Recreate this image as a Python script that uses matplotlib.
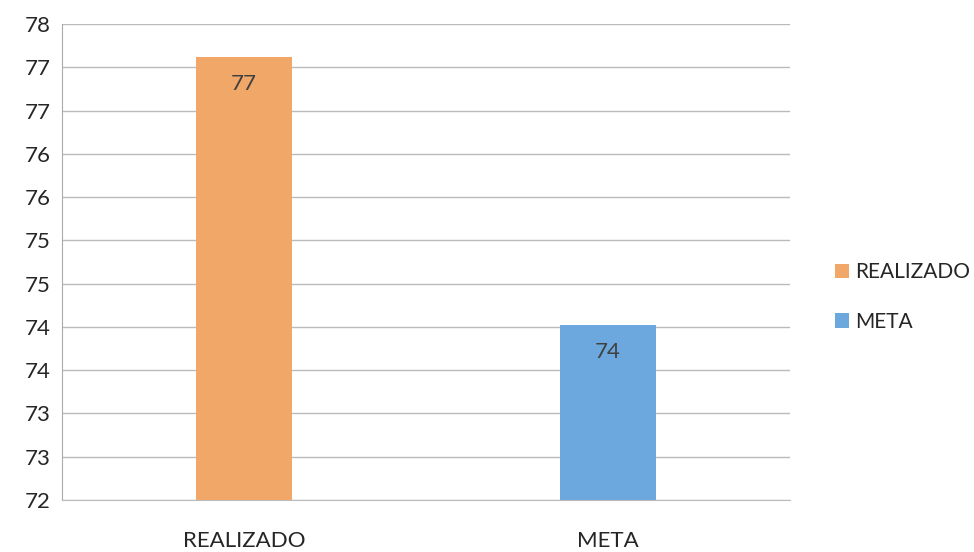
import matplotlib
matplotlib.use("Agg")
import matplotlib.pyplot as plt
from matplotlib.patches import Patch

categories = ["REALIZADO", "META"]
values = [77.12, 74.02]
value_labels = ["77", "74"]
colors = ["#F1A768", "#6CA8DE"]
y_ticks = [72, 72.5, 73, 73.5, 74, 74.5, 75, 75.5, 76, 76.5, 77, 77.5]
y_tick_labels = ["72", "73", "73", "74", "74", "75", "75", "76", "76", "77", "77", "78"]

plt.rcParams['font.family'] = ['Lato', 'DejaVu Sans']
txt = "#262626"

fig = plt.figure(figsize=(9.74, 5.52), dpi=100)
ax = fig.add_axes([62/974, 1-500/552, (790-62)/974, (500-24)/552])

x = list(range(len(categories)))
bars = ax.bar(x, values, width=0.264, color=colors, zorder=3)

ax.set_xlim(-0.5, 1.5)
ax.set_ylim(72, 77.5)
ax.set_yticks(y_ticks)
ax.set_yticklabels(y_tick_labels, fontsize=16, color=txt)
ax.tick_params(axis='y', length=0, pad=8)
ax.set_xticks(x)
ax.set_xticklabels(categories, fontsize=16, color=txt)
ax.tick_params(axis='x', length=0, pad=22)

ax.grid(axis='y', color="#BBBBBB", linewidth=1.0, zorder=0)
for s in ['top', 'right']:
    ax.spines[s].set_visible(False)
ax.spines['left'].set_color("#AAAAAA")
ax.spines['bottom'].set_color("#BBBBBB")

for xi, v, lab in zip(x, values, value_labels):
    ax.annotate(lab, (xi, v), xytext=(0, -27), textcoords='offset pixels',
                ha='center', va='center', fontsize=16, color="#404040", zorder=4)

handles = [Patch(facecolor=c, edgecolor='none') for c in colors]
fig.legend(handles, categories, loc='center left', bbox_to_anchor=(816/974, 1-297/552),
           frameon=False, fontsize=15, handlelength=0.7, handleheight=0.7,
           handletextpad=0.3, labelspacing=1.4, labelcolor=txt)

fig.savefig("out.png", dpi=100)
